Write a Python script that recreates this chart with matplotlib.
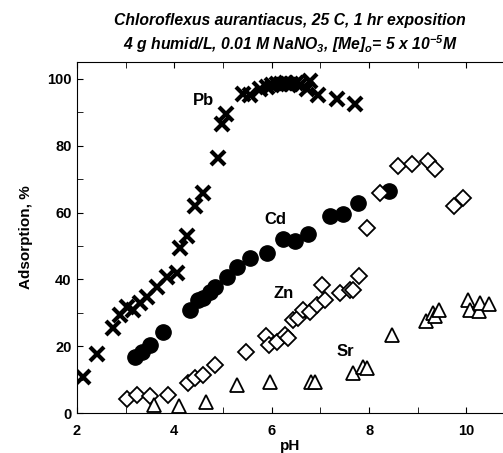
import matplotlib
matplotlib.use("Agg")
import matplotlib.pyplot as plt
from matplotlib.ticker import MultipleLocator

plt.rcParams["font.family"] = ["Liberation Sans", "DejaVu Sans"]
plt.rcParams["font.weight"] = "bold"
plt.rcParams["mathtext.fontset"] = "custom"
plt.rcParams["mathtext.rm"] = "Liberation Sans:bold:italic"
plt.rcParams["mathtext.it"] = "Liberation Sans:bold:italic"
plt.rcParams["mathtext.bf"] = "Liberation Sans:bold:italic"

# Pb (x markers)
pb_ph = [2.12, 2.41, 2.74, 2.88, 3.03, 3.15, 3.29, 3.43, 3.64, 3.85, 4.05, 4.12,
         4.25, 4.42, 4.59, 4.9, 4.98, 5.06, 5.41, 5.55, 5.76, 5.9, 6.0, 6.1,
         6.2, 6.3, 6.4, 6.5, 6.58, 6.72, 6.78, 6.95, 7.34, 7.71]
pb_ads = [10.7, 17.6, 25.4, 29.3, 31.6, 30.7, 32.8, 34.6, 37.6, 40.6, 42.0, 49.3,
          53.1, 62.0, 65.7, 76.4, 86.6, 89.6, 95.5, 95.0, 97.0, 97.5, 98.0, 98.3,
          98.5, 98.7, 98.5, 98.8, 98.2, 97.0, 99.4, 95.0, 94.0, 92.5]

# Cd (filled circles)
cd_ph = [3.19, 3.33, 3.5, 3.77, 4.32, 4.48, 4.59, 4.73, 4.83, 5.08, 5.29, 5.55,
         5.9, 6.23, 6.48, 6.74, 7.2, 7.46, 7.77, 8.41]
cd_ads = [16.7, 18.2, 20.3, 24.2, 30.7, 33.7, 34.3, 36.1, 37.6, 40.6, 43.6, 46.3,
          47.8, 52.2, 51.6, 53.7, 59.1, 59.7, 62.7, 66.3]

# Zn (open diamonds)
zn_ph = [3.03, 3.23, 3.5, 3.87, 4.28, 4.42, 4.59, 4.83, 5.47, 5.88, 5.94, 6.1,
         6.27, 6.33, 6.44, 6.54, 6.64, 6.78, 6.93, 7.03, 7.09, 7.4, 7.6, 7.67,
         7.79, 7.95, 8.22, 8.59, 8.88, 9.21, 9.35, 9.74, 9.93]
zn_ads = [4.2, 5.4, 5.1, 5.4, 9.0, 10.4, 11.3, 14.3, 18.2, 23.0, 20.3, 21.2,
          23.3, 22.4, 27.8, 28.4, 30.7, 30.1, 32.2, 38.2, 33.7, 35.8, 36.7, 36.7,
          40.9, 55.5, 65.7, 74.0, 74.6, 75.5, 73.1, 62.1, 64.2]

# Sr (open triangles)
sr_ph = [3.58, 4.09, 4.65, 5.29, 5.96, 6.8, 6.89, 7.67, 7.87, 7.95, 8.47, 9.17,
         9.31, 9.35, 9.43, 10.03, 10.07, 10.25, 10.27, 10.46]
sr_ads = [2.4, 2.1, 3.3, 8.4, 9.3, 9.3, 9.3, 11.9, 13.7, 13.4, 23.3, 27.5,
          29.9, 29.0, 30.7, 33.7, 30.7, 30.4, 32.8, 32.5]

fig = plt.figure(figsize=(5.03, 4.53), dpi=100)
ax = fig.add_axes([0.153, 0.088, 0.847, 0.775])

ax.plot(pb_ph, pb_ads, "x", color="black", ms=10, mew=3, linestyle="none")
ax.plot(cd_ph, cd_ads, "o", color="black", ms=11, linestyle="none")
ax.plot(zn_ph, zn_ads, "D", mfc="white", mec="black", ms=8, mew=1.3, linestyle="none")
ax.plot(sr_ph, sr_ads, "^", mfc="white", mec="black", ms=10, mew=1.3, linestyle="none")

# series labels
ax.text(4.6, 93.5, "Pb", fontsize=12, fontweight="bold", ha="center", va="center")
ax.text(6.07, 58, "Cd", fontsize=12, fontweight="bold", ha="center", va="center")
ax.text(6.25, 35.8, "Zn", fontsize=12, fontweight="bold", ha="center", va="center")
ax.text(7.52, 18.5, "Sr", fontsize=12, fontweight="bold", ha="center", va="center")

ax.set_xlim(2, 10.75)
ax.set_ylim(0, 105)
ax.xaxis.set_major_locator(MultipleLocator(2))
ax.xaxis.set_minor_locator(MultipleLocator(1))
ax.yaxis.set_major_locator(MultipleLocator(20))
ax.yaxis.set_minor_locator(MultipleLocator(10))
ax.tick_params(which="both", direction="in", top=True, right=False, labelsize=10.5)
ax.tick_params(which="both", length=4)
ax.tick_params(axis="x", pad=7.5)
ax.tick_params(axis="y", pad=4)
ax.spines["right"].set_visible(False)
for lab in ax.get_xticklabels() + ax.get_yticklabels():
    lab.set_fontweight("bold")

ax.set_xlabel("pH", fontsize=11, fontweight="bold", labelpad=1)
ax.set_ylabel("Adsorption, %", fontsize=11, fontweight="bold", labelpad=10)

title = ("Chloroflexus aurantiacus, 25 C, 1 hr exposition\n"
         "4 g humid/L, 0.01 M NaNO$_3$, [Me]$_o$= 5 x 10$^{-5}$M")
ax.set_title(title, fontsize=11.3, fontweight="bold", style="italic", pad=9,
             linespacing=1.3)

fig.savefig("out.png", dpi=100)
